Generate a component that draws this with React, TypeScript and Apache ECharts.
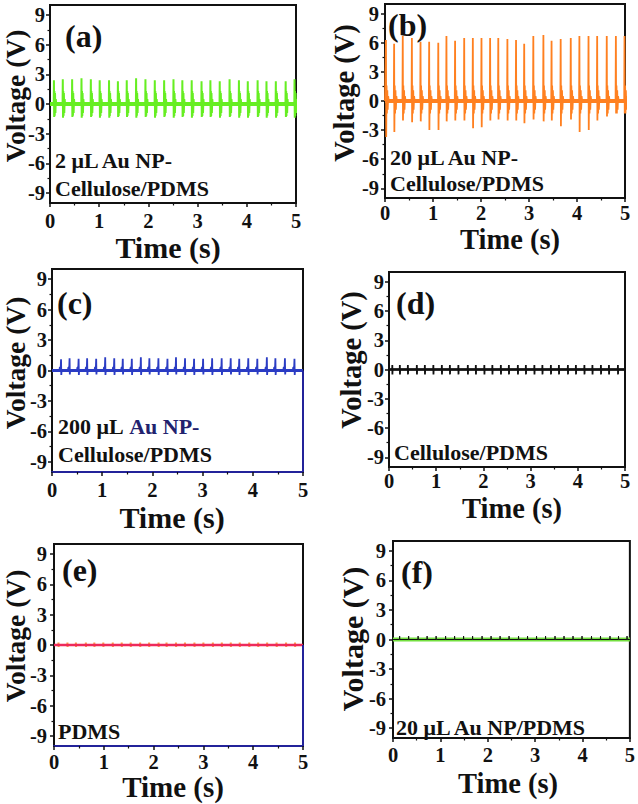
import React, { useEffect, useRef } from "react";
import * as echarts from "echarts";

// ---------- axes ----------
const xRange = [0, 5];
const yRange = [-10, 10];
const xTicks = [0, 1, 2, 3, 4, 5];
const yTicks = [-9, -6, -3, 0, 3, 6, 9];
const yMinorTicks = [-7.5, -4.5, -1.5, 1.5, 4.5, 7.5];

// ---------- (a) 2 uL Au NP-Cellulose/PDMS ----------
const aTimes = [0.08, 0.26, 0.45, 0.64, 0.83, 1.01, 1.2, 1.38, 1.56, 1.75, 1.94, 2.13, 2.32, 2.51, 2.69, 2.88, 3.08, 3.26, 3.45, 3.65, 3.84, 4.02, 4.22, 4.4, 4.59, 4.79, 4.97];
const aPeaks = [2.4, 2.5, 2.5, 2.6, 2.5, 2.4, 2.4, 2.3, 2.4, 2.6, 2.5, 2.4, 2.4, 2.5, 2.4, 2.4, 2.3, 2.4, 2.3, 2.5, 2.4, 2.3, 2.4, 2.3, 2.3, 2.3, 2.5];
const aTroughs = [-1.3, -1.4, -1.3, -1.4, -1.3, -1.4, -1.4, -1.3, -1.3, -1.4, -1.3, -1.4, -1.3, -1.4, -1.3, -1.4, -1.3, -1.3, -1.4, -1.3, -1.4, -1.4, -1.3, -1.4, -1.4, -1.3, -1.4];
const aPreOffsets = [-0.004];
const aPreLevels = [0];
const aRingOffsets = [0.01, 0.016, 0.022, 0.03, 0.038, 0.046];
const aRingLevels = [1.3, -1.2, 1.1, -0.9, 0.5, 0];

// ---------- (b) 20 uL Au NP-Cellulose/PDMS ----------
const bTimes = [0.02, 0.19, 0.37, 0.56, 0.74, 0.92, 1.11, 1.28, 1.46, 1.65, 1.83, 2.01, 2.19, 2.36, 2.55, 2.73, 2.9, 3.09, 3.3, 3.47, 3.66, 3.87, 4.05, 4.24, 4.42, 4.62, 4.81, 4.99];
const bPeaks = [6.3, 5.9, 6.7, 6.5, 6.1, 6.1, 6.0, 6.7, 6.2, 6.5, 6.5, 6.5, 6.5, 6.5, 6.4, 6.3, 5.9, 6.7, 6.8, 6.2, 6.4, 6.5, 6.7, 6.7, 6.7, 6.7, 6.7, 6.7];
const bTroughs = [-3.7, -3.2, -2.0, -2.2, -2.1, -3.0, -3.0, -2.1, -2.0, -2.0, -2.8, -2.7, -2.0, -1.9, -2.0, -2.0, -2.3, -1.9, -2.1, -2.0, -2.6, -1.9, -3.2, -3.0, -2.0, -1.6, -1.3, -1.3];
const bPreOffsets = [-0.006];
const bPreLevels = [0];
const bRingOffsets = [0.012, 0.02, 0.028, 0.036, 0.046, 0.058];
const bRingLevels = [1.6, -1.3, 1.1, -0.9, 0.5, 0];

// ---------- (c) 200 uL Au NP-Cellulose/PDMS ----------
const cTimes = [0.18, 0.35, 0.53, 0.7, 0.88, 1.06, 1.24, 1.41, 1.59, 1.77, 1.94, 2.12, 2.3, 2.47, 2.65, 2.83, 3.01, 3.19, 3.38, 3.56, 3.73, 3.91, 4.09, 4.28, 4.45, 4.64, 4.83];
const cPeaks = [1.1, 1.2, 1.15, 1.2, 1.15, 1.3, 1.2, 1.15, 1.15, 1.3, 1.2, 1.2, 1.15, 1.3, 1.2, 1.15, 1.15, 1.2, 1.2, 1.2, 1.15, 1.2, 1.15, 1.3, 1.2, 1.2, 1.15];
const cTroughs = [-0.45, -0.4, -0.45, -0.45, -0.4, -0.45, -0.45, -0.4, -0.45, -0.45, -0.4, -0.45, -0.45, -0.4, -0.45, -0.45, -0.4, -0.45, -0.45, -0.4, -0.45, -0.45, -0.4, -0.45, -0.45, -0.4, -0.45];
const cPreOffsets = [-0.03, -0.026, -0.006];
const cPreLevels = [0, 0.3, 0.3];
const cRingOffsets = [0.012, 0.02];
const cRingLevels = [0.1, 0];
const cEndDrop = [0, -10];

// ---------- (d) Cellulose/PDMS ----------
const dTimes = [0.07, 0.23, 0.4, 0.59, 0.76, 0.94, 1.12, 1.29, 1.47, 1.67, 1.84, 2.02, 2.19, 2.37, 2.54, 2.73, 2.9, 3.08, 3.25, 3.43, 3.6, 3.79, 3.96, 4.14, 4.31, 4.49, 4.66, 4.85];
const dPeaks = [0.45, 0.45, 0.45, 0.45, 0.45, 0.45, 0.45, 0.45, 0.45, 0.45, 0.45, 0.45, 0.45, 0.45, 0.45, 0.45, 0.45, 0.45, 0.45, 0.45, 0.45, 0.45, 0.45, 0.45, 0.45, 0.45, 0.45, 0.45];
const dTroughs = [-0.5, -0.5, -0.5, -0.5, -0.5, -0.5, -0.5, -0.5, -0.5, -0.5, -0.5, -0.5, -0.5, -0.5, -0.5, -0.5, -0.5, -0.5, -0.5, -0.5, -0.5, -0.5, -0.5, -0.5, -0.5, -0.5, -0.5, -0.5];

// ---------- (e) PDMS ----------
const eTimes = [0.09, 0.27, 0.44, 0.64, 0.81, 0.99, 1.18, 1.36, 1.54, 1.73, 1.91, 2.1, 2.26, 2.45, 2.63, 2.82, 3.0, 3.19, 3.37, 3.55, 3.73, 3.92, 4.1, 4.28, 4.47, 4.66, 4.84];
const ePeaks = [0.25, 0.25, 0.25, 0.25, 0.25, 0.25, 0.25, 0.25, 0.25, 0.25, 0.25, 0.25, 0.25, 0.25, 0.25, 0.25, 0.25, 0.25, 0.25, 0.25, 0.25, 0.25, 0.25, 0.25, 0.25, 0.25, 0.25];
const eTroughs = [-0.2, -0.2, -0.2, -0.2, -0.2, -0.2, -0.2, -0.2, -0.2, -0.2, -0.2, -0.2, -0.2, -0.2, -0.2, -0.2, -0.2, -0.2, -0.2, -0.2, -0.2, -0.2, -0.2, -0.2, -0.2, -0.2, -0.2];
const eEndDrop = [0, -10];

// ---------- (f) 20 uL Au NP/PDMS ----------
const fTimes = [0.14, 0.33, 0.53, 0.72, 0.91, 1.11, 1.3, 1.49, 1.68, 1.88, 2.07, 2.26, 2.45, 2.65, 2.84, 3.03, 3.22, 3.42, 3.61, 3.8, 3.99, 4.19, 4.38, 4.58, 4.76, 4.94];
const fPeaks = [0.35, 0.35, 0.35, 0.35, 0.35, 0.35, 0.35, 0.35, 0.35, 0.35, 0.35, 0.35, 0.35, 0.35, 0.35, 0.35, 0.35, 0.35, 0.35, 0.35, 0.35, 0.35, 0.35, 0.35, 0.35, 0.35];
const fTroughs = [0, 0, 0, 0, 0, 0, 0, 0, 0, 0, 0, 0, 0, 0, 0, 0, 0, 0, 0, 0, 0, 0, 0, 0, 0, 0];

const baselineLevel = 0;

const FONT = "'Liberation Serif', 'Times New Roman', serif";
const INK = "#111111";

function buildPulses(
  times: number[],
  peaks: number[],
  troughs: number[],
  troughDelay: number,
  preOff: number[],
  preLvl: number[],
  postOff: number[],
  postLvl: number[]
) {
  const pts: number[][] = [[xRange[0], baselineLevel]];
  times.forEach((t, i) => {
    preOff.forEach((o, j) => pts.push([t + o, preLvl[j]]));
    pts.push([t, peaks[i]]);
    pts.push([t + troughDelay, troughs[i]]);
    postOff.forEach((o, j) => pts.push([t + o, postLvl[j]]));
  });
  pts.push([xRange[1], baselineLevel]);
  return pts;
}

const baseline = () => [
  [xRange[0], baselineLevel],
  [xRange[1], baselineLevel],
];
const endDrop = (v: number[]) => [
  [xRange[1], v[0]],
  [xRange[1], v[1]],
];

type Line = { data: number[][]; color: string; width: number };
type Note = { x: number; y: number; text: string; rich?: boolean };
type Panel = {
  grid: { left: number; top: number; width: number; height: number };
  xMargin: number;
  yMargin: number;
  bottomColor: string;
  tag: { x: number; y: number; text: string };
  yName: { x: number; y: number; size: number };
  xName: { x: number; y: number; size: number };
  notes: Note[];
  lines: Line[];
};

const panels: Panel[] = [
  {
    grid: { left: 50, top: 5, width: 246, height: 198 },
    xMargin: 7,
    yMargin: 5,
    bottomColor: INK,
    tag: { x: 65, y: 36, text: "(a)" },
    yName: { x: 15, y: 96, size: 27.5 },
    xName: { x: 168, y: 247, size: 30 },
    notes: [
      { x: 55, y: 160, text: "2 μL Au NP-" },
      { x: 55, y: 188, text: "Cellulose/PDMS" },
    ],
    lines: [
      { data: baseline(), color: "#66ee22", width: 4 },
      {
        data: buildPulses(aTimes, aPeaks, aTroughs, 0.005, aPreOffsets, aPreLevels, aRingOffsets, aRingLevels),
        color: "#66ee22",
        width: 2,
      },
    ],
  },
  {
    grid: { left: 385, top: 4, width: 240, height: 194 },
    xMargin: 4,
    yMargin: 6,
    bottomColor: INK,
    tag: { x: 388, y: 25, text: "(b)" },
    yName: { x: 344, y: 93, size: 28.5 },
    xName: { x: 510, y: 239, size: 28.5 },
    notes: [
      { x: 390, y: 157, text: "20 μL Au NP-" },
      { x: 390, y: 183, text: "Cellulose/PDMS" },
    ],
    lines: [
      { data: baseline(), color: "#ff8020", width: 4 },
      {
        data: buildPulses(bTimes, bPeaks, bTroughs, 0.005, bPreOffsets, bPreLevels, bRingOffsets, bRingLevels),
        color: "#ff8020",
        width: 1.8,
      },
    ],
  },
  {
    grid: { left: 52, top: 269, width: 251, height: 203 },
    xMargin: 7,
    yMargin: 5,
    bottomColor: "#23239a",
    tag: { x: 57, y: 303, text: "(c)" },
    yName: { x: 15, y: 363, size: 27.5 },
    xName: { x: 172, y: 517, size: 30 },
    notes: [
      { x: 58, y: 426, text: "200 μL Au NP-", rich: true },
      { x: 58, y: 454, text: "Cellulose/PDMS" },
    ],
    lines: [
      { data: baseline(), color: "#2b3cc4", width: 3 },
      {
        data: buildPulses(cTimes, cPeaks, cTroughs, 0.005, cPreOffsets, cPreLevels, cRingOffsets, cRingLevels),
        color: "#2b3cc4",
        width: 1.8,
      },
      { data: endDrop(cEndDrop), color: "#23239a", width: 2 },
    ],
  },
  {
    grid: { left: 389, top: 272, width: 236, height: 195 },
    xMargin: 3,
    yMargin: 5,
    bottomColor: INK,
    tag: { x: 396, y: 303, text: "(d)" },
    yName: { x: 351, y: 360, size: 28.5 },
    xName: { x: 512, y: 508, size: 28.5 },
    notes: [{ x: 394, y: 452, text: "Cellulose/PDMS" }],
    lines: [
      { data: baseline(), color: INK, width: 2.5 },
      {
        data: buildPulses(dTimes, dPeaks, dTroughs, 0.002, [-0.003], [0], [0.006], [0]),
        color: INK,
        width: 1.8,
      },
    ],
  },
  {
    grid: { left: 54, top: 544, width: 249, height: 202 },
    xMargin: 5,
    yMargin: 7,
    bottomColor: "#23239a",
    tag: { x: 62, y: 570, text: "(e)" },
    yName: { x: 15, y: 636, size: 27.5 },
    xName: { x: 173, y: 787, size: 29 },
    notes: [{ x: 58, y: 731, text: "PDMS" }],
    lines: [
      {
        data: buildPulses(eTimes, ePeaks, eTroughs, 0.002, [-0.003], [0], [0.006], [0]),
        color: "#ff9a4a",
        width: 2,
      },
      { data: baseline(), color: "#ee2a5a", width: 2.5 },
      { data: endDrop(eEndDrop), color: "#23239a", width: 2 },
    ],
  },
  {
    grid: { left: 393, top: 541, width: 238, height: 197 },
    xMargin: 6,
    yMargin: 7,
    bottomColor: INK,
    tag: { x: 401, y: 572, text: "(f)" },
    yName: { x: 352, y: 639, size: 30 },
    xName: { x: 508, y: 783, size: 28.5 },
    notes: [{ x: 396, y: 727, text: "20 μL Au NP/PDMS" }],
    lines: [
      { data: baseline(), color: "#74e040", width: 4 },
      {
        data: buildPulses(fTimes, fPeaks, fTroughs, 0.004, [-0.003], [0], [0.008], [0]),
        color: INK,
        width: 1,
      },
    ],
  },
];

function buildOption() {
  const labelStyle = {
    fontFamily: FONT,
    fontWeight: "bold" as const,
    fontSize: 20.5,
    color: INK,
  };
  const grid = panels.map((p) => ({
    ...p.grid,
    show: true,
    borderColor: INK,
    borderWidth: 2,
    backgroundColor: "transparent",
    containLabel: false,
  }));
  const xAxis = panels.map((p, i) => ({
    gridIndex: i,
    type: "value",
    min: xRange[0],
    max: xRange[1],
    interval: 1,
    axisLine: { show: true, onZero: false, lineStyle: { color: p.bottomColor, width: 2 } },
    axisTick: { show: true, inside: false, length: 4, lineStyle: { color: INK, width: 1.5 } },
    minorTick: { show: true, splitNumber: 2, length: 2.5, lineStyle: { color: INK, width: 1.2 } },
    axisLabel: { ...labelStyle, margin: p.xMargin, customValues: xTicks },
    splitLine: { show: false },
    minorSplitLine: { show: false },
  }));
  const yAxis: any[] = [];
  panels.forEach((p, i) => {
    yAxis.push({
      gridIndex: i,
      type: "value",
      position: "left",
      min: yRange[0],
      max: yRange[1],
      axisLine: { show: true, onZero: false, lineStyle: { color: INK, width: 2 } },
      axisTick: { show: true, inside: false, length: 4, customValues: yTicks, lineStyle: { color: INK, width: 1.5 } },
      axisLabel: { ...labelStyle, margin: p.yMargin, customValues: yTicks },
      splitLine: { show: false },
    });
    yAxis.push({
      gridIndex: i,
      type: "value",
      position: "left",
      offset: 0,
      min: yRange[0],
      max: yRange[1],
      axisLine: { show: false, onZero: false },
      axisTick: { show: true, inside: false, length: 2.5, customValues: yMinorTicks, lineStyle: { color: INK, width: 1.2 } },
      axisLabel: { show: false },
      splitLine: { show: false },
    });
  });
  const series: any[] = [];
  panels.forEach((p, i) => {
    p.lines.forEach((l) => {
      series.push({
        type: "line",
        xAxisIndex: i,
        yAxisIndex: 2 * i,
        data: l.data,
        showSymbol: false,
        symbol: "none",
        clip: true,
        silent: true,
        lineStyle: { color: l.color, width: l.width },
      });
    });
  });
  const elements: any[] = [];
  panels.forEach((p) => {
    elements.push({
      type: "text",
      x: p.tag.x,
      y: p.tag.y,
      z: 100,
      style: {
        text: p.tag.text,
        fill: INK,
        font: `bold 32px ${FONT}`,
        align: "left",
        verticalAlign: "middle",
      },
    });
    elements.push({
      type: "text",
      x: p.yName.x,
      y: p.yName.y,
      rotation: Math.PI / 2,
      z: 100,
      style: {
        text: "Voltage (V)",
        fill: INK,
        font: `bold ${p.yName.size}px ${FONT}`,
        align: "center",
        verticalAlign: "middle",
      },
    });
    elements.push({
      type: "text",
      x: p.xName.x,
      y: p.xName.y,
      z: 100,
      style: {
        text: "Time (s)",
        fill: INK,
        font: `bold ${p.xName.size}px ${FONT}`,
        align: "center",
        verticalAlign: "middle",
      },
    });
    p.notes.forEach((n) => {
      if (n.rich) {
        const parts = n.text.split("Au");
        elements.push({
          type: "text",
          x: n.x,
          y: n.y,
          z: 100,
          style: {
            text: `{k|${parts[0]}}{b|Au${parts[1]}}`,
            font: `bold 22px ${FONT}`,
            fill: INK,
            align: "left",
            verticalAlign: "middle",
            rich: {
              k: { fill: INK, fontSize: 22, fontWeight: "bold", fontFamily: FONT },
              b: { fill: "#22226e", fontSize: 22, fontWeight: "bold", fontFamily: FONT },
            },
          },
        });
      } else {
        elements.push({
          type: "text",
          x: n.x,
          y: n.y,
          z: 100,
          style: {
            text: n.text,
            fill: INK,
            font: `bold 22px ${FONT}`,
            align: "left",
            verticalAlign: "middle",
          },
        });
      }
    });
  });
  return {
    animation: false,
    backgroundColor: "#ffffff",
    grid,
    xAxis,
    yAxis,
    series,
    graphic: { elements },
  };
}

export default function App() {
  const ref = useRef<HTMLDivElement>(null);
  useEffect(() => {
    if (!ref.current) return;
    const chart = echarts.init(ref.current, undefined, { renderer: "svg" });
    chart.setOption(buildOption() as any);
    return () => chart.dispose();
  }, []);
  return (
    <div
      ref={ref}
      style={{ position: "absolute", left: 0, top: 0, width: 638, height: 804, background: "#fff" }}
    />
  );
}
